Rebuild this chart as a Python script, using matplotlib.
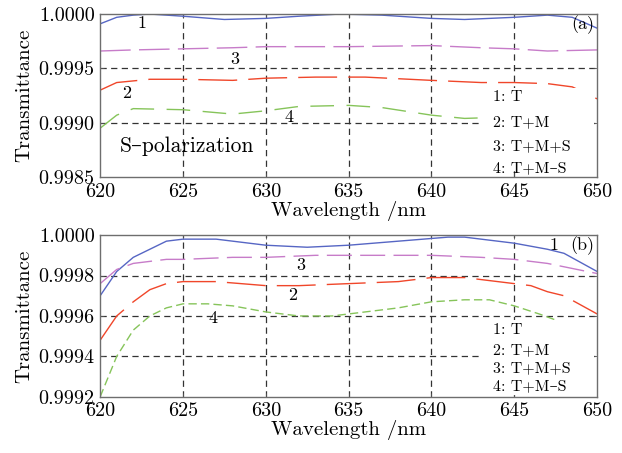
import matplotlib
matplotlib.use("Agg")
import matplotlib.pyplot as plt
from matplotlib.ticker import FormatStrFormatter

plt.rcParams["font.family"] = ["cmr10", "DejaVu Serif"]
plt.rcParams["axes.unicode_minus"] = False
plt.rcParams["mathtext.fontset"] = "cm"

# ---- S-polarization (a) ----
s_x1 = [620, 621, 622, 623, 625, 627.5, 630, 632, 634.5, 637, 640, 642, 645, 647, 648.5, 650]
s_y1 = [0.99991, 0.99997, 0.99999, 1.00000, 0.99998, 0.99995, 0.99996, 0.99998, 1.00000, 0.99999,
        0.99996, 0.99995, 0.99997, 0.99999, 0.99997, 0.99987]
s_x3 = [620, 622, 625, 628, 630, 635, 640, 643, 645, 647, 650]
s_y3 = [0.99966, 0.99967, 0.99968, 0.99969, 0.99970, 0.99970, 0.99971, 0.99969, 0.99968, 0.99966, 0.99967]
s_x2 = [620, 621, 623, 625, 628, 630, 633, 636, 640, 643, 645, 647, 648.5, 650]
s_y2 = [0.99930, 0.99937, 0.99940, 0.99940, 0.99939, 0.99941, 0.99942, 0.99942, 0.99939, 0.99937,
        0.99937, 0.99936, 0.99933, 0.99922]
s_x4 = [620, 621, 622, 625, 628, 630, 632, 635, 637, 640, 642, 644, 646, 648, 650]
s_y4 = [0.99895, 0.99907, 0.99913, 0.99912, 0.99908, 0.99911, 0.99915, 0.99916, 0.99914, 0.99907,
        0.99904, 0.99905, 0.99906, 0.99905, 0.99903]

# ---- P-polarization (b) ----
p_x1 = [620, 621, 622, 623, 624, 625, 627, 630, 632.5, 635, 638, 639.5, 641, 642, 645, 647, 648, 650]
p_y1 = [0.99970, 0.99982, 0.99989, 0.99993, 0.99997, 0.99998, 0.99998, 0.99995, 0.99994, 0.99995,
        0.99997, 0.99998, 0.99999, 0.99999, 0.99996, 0.99993, 0.99991, 0.99982]
p_x3 = [620, 621, 622, 624, 625, 628, 630, 633, 636, 640, 643, 645, 647, 650]
p_y3 = [0.99976, 0.99983, 0.99986, 0.99988, 0.99988, 0.99989, 0.99989, 0.99990, 0.99990, 0.99990,
        0.99989, 0.99988, 0.99986, 0.99981]
p_x2 = [620, 621, 622, 623, 624, 625, 627, 630, 632, 635, 638, 640, 642, 644, 645, 646, 647, 648, 650]
p_y2 = [0.99948, 0.99960, 0.99967, 0.99973, 0.99976, 0.99977, 0.99977, 0.99975, 0.99975, 0.99976,
        0.99977, 0.99979, 0.99979, 0.99977, 0.99976, 0.99975, 0.99972, 0.99970, 0.99961]
p_x4 = [620, 621, 622, 623, 624, 625, 626.5, 628, 630, 632, 634, 636, 638, 640, 642, 643.5, 645,
        646.5, 647.5]
p_y4 = [0.99920, 0.99940, 0.99953, 0.99960, 0.99964, 0.99966, 0.99966, 0.99965, 0.99962, 0.99960,
        0.99960, 0.99962, 0.99964, 0.99967, 0.99968, 0.99968, 0.99965, 0.99961, 0.99958]

legend_lines = ["1: T", "2: T+M", "3: T+M+S", "4: T+M\u2013S"]

BLUE = "#5666c4"
MAGENTA = "#c77cc9"
RED = "#f0462a"
GREEN = "#86c45a"


def draw_panel(ax, curves, ylim, yticks, hgrid, labels, tag, tag_xy, pol, pol_xy,
               box, legend_y):
    for x, y, color, dashes in curves:
        ax.plot(x, y, color=color, lw=1.0, dashes=dashes, zorder=2)

    for gx in [625, 630, 635, 640, 645]:
        ax.axvline(gx, color="#333333", lw=0.9, dashes=(5, 3.5), zorder=1)
    for gy in hgrid:
        ax.axhline(gy, color="#333333", lw=0.9, dashes=(5, 3.5), zorder=1)

    # white box behind legend text hides grid and curves
    x0, x1, y0, y1 = box
    ax.fill_between([x0, x1], y0, y1, color="white", zorder=3, lw=0)
    for txt, ly in zip(legend_lines, legend_y):
        ax.text(643.7, ly, txt, fontsize=11.5, va="center", ha="left", zorder=4)

    for txt, lx, ly in labels:
        ax.text(lx, ly, txt, fontsize=13, ha="center", va="center", zorder=4)
    ax.text(tag_xy[0], tag_xy[1], tag, fontsize=13, ha="right", va="center", zorder=4)
    ax.text(pol_xy[0], pol_xy[1], pol, fontsize=15.5, ha="left", va="center", zorder=4)

    ax.set_xlim(620, 650)
    ax.set_ylim(*ylim)
    ax.set_xticks([620, 625, 630, 635, 640, 645, 650])
    ax.set_yticks(yticks)
    ax.yaxis.set_major_formatter(FormatStrFormatter("%.4f"))
    ax.tick_params(direction="in", length=3, width=0.6, labelsize=14.5, color="#555555",
                   top=True, right=True, pad=4)
    for sp in ax.spines.values():
        sp.set_color("#6e6e6e")
        sp.set_linewidth(1.0)
    ax.set_xlabel("Wavelength /nm", fontsize=15, labelpad=0)
    ax.set_ylabel("Transmittance", fontsize=15, labelpad=4)


fig = plt.figure(figsize=(6.22, 4.53), dpi=100)
ax_s = fig.add_axes([0.161, 0.609, 0.799, 0.360])
ax_p = fig.add_axes([0.161, 0.124, 0.799, 0.357])

draw_panel(
    ax_s,
    [(s_x1, s_y1, BLUE, ()),
     (s_x3, s_y3, MAGENTA, (22, 6)),
     (s_x2, s_y2, RED, (28, 8)),
     (s_x4, s_y4, GREEN, (17, 9))],
    ylim=(0.9985, 1.0000),
    yticks=[0.9985, 0.9990, 0.9995, 1.0000],
    hgrid=[0.9990, 0.9995],
    labels=[("1", 622.5, 0.99991), ("3", 628.1, 0.99958), ("2", 621.6, 0.99927),
            ("4", 631.4, 0.99905)],
    tag="(a)", tag_xy=(649.8, 0.99990),
    pol="S\u2013polarization", pol_xy=(621.2, 0.99878),
    box=(643.0, 649.8, 0.99857, 0.99932),
    legend_y=[0.99924, 0.99900, 0.99878, 0.99858],
)

draw_panel(
    ax_p,
    [(p_x1, p_y1, BLUE, ()),
     (p_x3, p_y3, MAGENTA, (18, 6)),
     (p_x2, p_y2, RED, (28, 8)),
     (p_x4, p_y4, GREEN, (6, 3))],
    ylim=(0.9992, 1.0000),
    yticks=[0.9992, 0.9994, 0.9996, 0.9998, 1.0000],
    hgrid=[0.9994, 0.9996, 0.9998],
    labels=[("1", 647.4, 0.99995), ("3", 632.1, 0.99985), ("2", 631.6, 0.99970),
            ("4", 626.8, 0.99959)],
    tag="(b)", tag_xy=(649.8, 0.99995),
    pol="P\u2013polarization", pol_xy=(622.4, 0.99866),
    box=(643.0, 649.8, 0.99921, 0.99958),
    legend_y=[0.99953, 0.99943, 0.99934, 0.99925],
)

fig.savefig("out.png", dpi=100)
